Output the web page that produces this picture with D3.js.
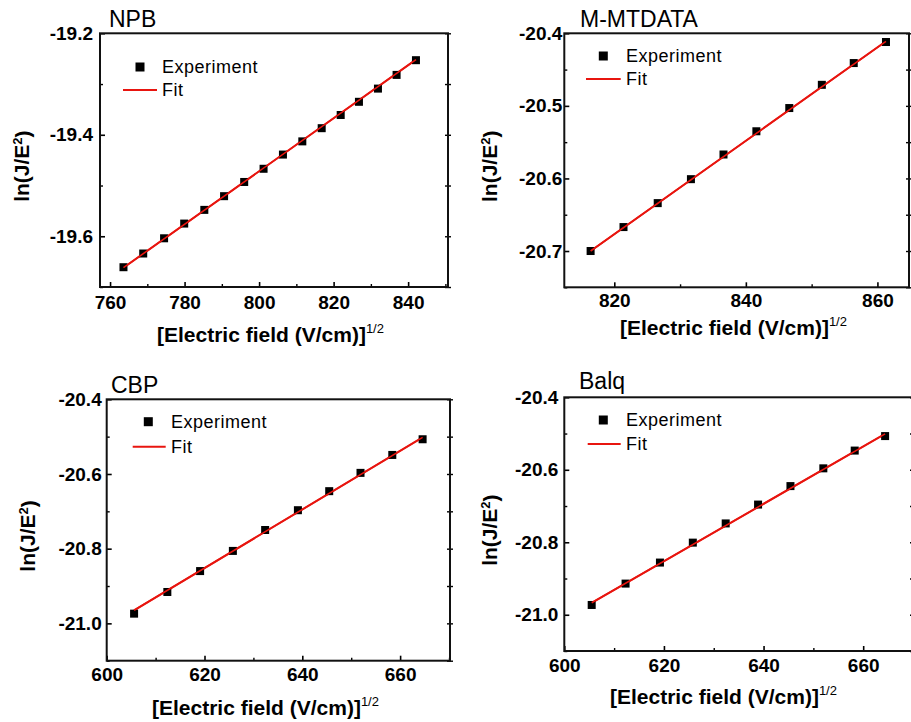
<!DOCTYPE html>
<html><head><meta charset="utf-8">
<script src="https://cdn.jsdelivr.net/npm/d3@7"></script>
<style>
html,body{margin:0;padding:0;background:#fff;}
svg{display:block;font-family:"Liberation Sans",Arial,sans-serif;}
</style></head>
<body>
<svg id="chart" width="911" height="722"></svg>
<script>
// ---------- data ----------
const panelNames = ["NPB", "M-MTDATA", "CBP", "Balq"];

const npbX = [763.6, 768.9, 774.5, 779.9, 785.3, 790.6, 796.0, 801.2, 806.4, 811.6, 816.8, 821.9, 826.8, 831.9, 836.9, 842.1];
const npbY = [-19.661, -19.634, -19.604, -19.575, -19.548, -19.521, -19.493, -19.467, -19.439, -19.413, -19.387, -19.361, -19.335, -19.309, -19.282, -19.253];
const npbFitX = [763.6, 842.1];
const npbFitY = [-19.662, -19.252];

const mtX = [816.4, 821.4, 826.6, 831.65, 836.6, 841.6, 846.6, 851.55, 856.4, 861.3];
const mtY = [-20.700, -20.667, -20.634, -20.601, -20.567, -20.535, -20.503, -20.471, -20.441, -20.412];
const mtFitX = [816.4, 861.3];
const mtFitY = [-20.700, -20.411];

const cbpX = [605.6, 612.4, 619.1, 625.8, 632.4, 639.1, 645.5, 651.9, 658.4, 664.6];
const cbpY = [-20.974, -20.916, -20.860, -20.806, -20.750, -20.697, -20.646, -20.597, -20.549, -20.507];
const cbpFitX = [605.6, 664.6];
const cbpFitY = [-20.965, -20.502];

const balqX = [605.5, 612.3, 619.2, 625.8, 632.4, 638.9, 645.4, 652.0, 658.3, 664.4];
const balqY = [-20.973, -20.914, -20.856, -20.801, -20.748, -20.696, -20.645, -20.596, -20.547, -20.507];
const balqFitX = [605.5, 664.4];
const balqFitY = [-20.967, -20.501];

const npbXTicks = [760, 780, 800, 820, 840];
const npbXMinor = [770, 790, 810, 830, 850];
const npbYTicks = [-19.6, -19.4, -19.2];
const npbYLabels = ["-19.6", "-19.4", "-19.2"];
const npbYMinor = [-19.7, -19.5, -19.3];

const mtXTicks = [820, 840, 860];
const mtXMinor = [830, 850];
const mtYTicks = [-20.7, -20.6, -20.5, -20.4];
const mtYLabels = ["-20.7", "-20.6", "-20.5", "-20.4"];
const mtYMinor = [-20.75, -20.65, -20.55, -20.45];

const lowXTicks = [600, 620, 640, 660];
const lowXMinor = [610, 630, 650, 670];
const lowYTicks = [-21.0, -20.8, -20.6, -20.4];
const lowYLabels = ["-21.0", "-20.8", "-20.6", "-20.4"];
const lowYMinor = [-21.1, -20.9, -20.7, -20.5];

const legendLabels = ["Experiment", "Fit"];
const xTitle = "[Electric field (V/cm)]";
const xTitleSup = "1/2";

// ---------- layout ----------
const panels = [
  {name: panelNames[0], xs: npbX, ys: npbY, fx: npbFitX, fy: npbFitY,
   xd: [757.3, 850.7], yd: [-19.7, -19.2], L: 100, R: 448, T: 33.3, B: 287,
   xt: npbXTicks, xm: npbXMinor, yt: npbYTicks, yl: npbYLabels, ym: npbYMinor,
   ylGap: 7, xlDy: 15, titleX: 109, titleY: 27, yTitleX: 22, xTitleX: 157, xTitleY: 335,
   legM: [140, 67], legT: 162, legF: [123, 157, 90]},
  {name: panelNames[1], xs: mtX, ys: mtY, fx: mtFitX, fy: mtFitY,
   xd: [812.4, 864.8], yd: [-20.75, -20.4], L: 564.3, R: 909, T: 33.3, B: 287.3,
   xt: mtXTicks, xm: mtXMinor, yt: mtYTicks, yl: mtYLabels, ym: mtYMinor,
   ylGap: 2, xlDy: 13, titleX: 580, titleY: 27, yTitleX: 490, xTitleX: 620, xTitleY: 328,
   legM: [603.3, 56], legT: 626, legF: [586, 620.7, 79]},
  {name: panelNames[2], xs: cbpX, ys: cbpY, fx: cbpFitX, fy: cbpFitY,
   xd: [600, 670.2], yd: [-21.1, -20.4], L: 106.7, R: 450, T: 399.3, B: 660.7,
   xt: lowXTicks, xm: lowXMinor, yt: lowYTicks, yl: lowYLabels, ym: lowYMinor,
   ylGap: 5, xlDy: 14, titleX: 111, titleY: 393, yTitleX: 28, xTitleX: 152, xTitleY: 708,
   legM: [148.3, 421.7], legT: 171, legF: [132.7, 165.7, 446.7]},
  {name: panelNames[3], xs: balqX, ys: balqY, fx: balqFitX, fy: balqFitY,
   xd: [600, 670], yd: [-21.1, -20.4], L: 564.3, R: 913, T: 397.3, B: 651,
   xt: lowXTicks, xm: lowXMinor, yt: lowYTicks, yl: lowYLabels, ym: lowYMinor,
   ylGap: 6, xlDy: 14, titleX: 579, titleY: 389, yTitleX: 490, xTitleX: 610, xTitleY: 697,
   legM: [603.3, 420], legT: 626, legF: [587.7, 620.7, 444]}
];

const RED = "#e8150f";
const svg = d3.select("#chart");

panels.forEach(p => {
  const g = svg.append("g");
  const x = d3.scaleLinear().domain(p.xd).range([p.L, p.R]);
  const y = d3.scaleLinear().domain(p.yd).range([p.B, p.T]);

  // axes: bottom with inward ticks
  const xAxis = d3.axisBottom(x).tickValues(p.xt).tickSize(-5).tickFormat(d3.format("d")).tickPadding(0);
  const gx = g.append("g").attr("transform", `translate(0,${p.B})`).call(xAxis);
  gx.select(".domain").remove();
  gx.selectAll("line").attr("stroke", "#000").attr("stroke-width", 1.6);
  gx.selectAll("text").attr("y", p.xlDy).attr("dy", "0.35em")
    .attr("font-size", 19).attr("font-weight", "bold").attr("fill", "#000");

  const xMin = d3.axisBottom(x).tickValues(p.xm.filter(v => v <= p.xd[1])).tickSize(-3).tickFormat("");
  const gxm = g.append("g").attr("transform", `translate(0,${p.B})`).call(xMin);
  gxm.select(".domain").remove();
  gxm.selectAll("line").attr("stroke", "#000").attr("stroke-width", 1.4);

  const yAxis = d3.axisLeft(y).tickValues(p.yt).tickSize(-5).tickFormat((d, i) => p.yl[i]).tickPadding(0);
  const gy = g.append("g").attr("transform", `translate(${p.L},0)`).call(yAxis);
  gy.select(".domain").remove();
  gy.selectAll("line").attr("stroke", "#000").attr("stroke-width", 1.6);
  gy.selectAll("text").attr("x", -p.ylGap).attr("font-size", 19).attr("font-weight", "bold").attr("fill", "#000");

  const yMin = d3.axisLeft(y).tickValues(p.ym.filter(v => v >= p.yd[0])).tickSize(-3).tickFormat("");
  const gym = g.append("g").attr("transform", `translate(${p.L},0)`).call(yMin);
  gym.select(".domain").remove();
  gym.selectAll("line").attr("stroke", "#000").attr("stroke-width", 1.4);

  // right-side mirror ticks
  const yR = d3.axisRight(y).tickValues(p.yt.concat(p.ym)).tickSize(3).tickFormat("");
  const gyr = g.append("g").attr("transform", `translate(${p.R},0)`).call(yR);
  gyr.select(".domain").remove();
  gyr.selectAll("line").attr("x1", -3).attr("stroke", "#000").attr("stroke-width", 1.4);

  // frame
  g.append("rect").attr("x", p.L).attr("y", p.T).attr("width", p.R - p.L).attr("height", p.B - p.T)
    .attr("fill", "none").attr("stroke", "#111").attr("stroke-width", 2);

  // fit line
  const fitPts = p.fx.map((v, i) => [v, p.fy[i]]);
  g.append("path").datum(fitPts)
    .attr("d", d3.line().x(d => x(d[0])).y(d => y(d[1])))
    .attr("stroke", RED).attr("stroke-width", 2).attr("fill", "none");

  // experiment squares
  const S = 8;
  g.selectAll("rect.pt").data(p.xs.map((v, i) => [v, p.ys[i]])).enter().append("rect")
    .attr("class", "pt")
    .attr("x", d => x(d[0]) - S / 2).attr("y", d => y(d[1]) - S / 2)
    .attr("width", S).attr("height", S).attr("fill", "#000");
  // redraw fit over squares lightly
  g.append("path").datum(fitPts)
    .attr("d", d3.line().x(d => x(d[0])).y(d => y(d[1])))
    .attr("stroke", RED).attr("stroke-width", 1.6).attr("fill", "none");

  // panel title
  g.append("text").attr("x", p.titleX).attr("y", p.titleY).text(p.name)
    .attr("font-size", 23).attr("fill", "#000");

  // legend
  g.append("rect").attr("x", p.legM[0] - 4.5).attr("y", p.legM[1] - 4.5).attr("width", 9).attr("height", 9).attr("fill", "#000");
  g.append("text").attr("x", p.legT).attr("y", p.legM[1]).attr("dy", "0.35em").text(legendLabels[0])
    .attr("font-size", 18).attr("letter-spacing", 0.5).attr("fill", "#000");
  g.append("line").attr("x1", p.legF[0]).attr("x2", p.legF[1]).attr("y1", p.legF[2]).attr("y2", p.legF[2])
    .attr("stroke", RED).attr("stroke-width", 2);
  g.append("text").attr("x", p.legT).attr("y", p.legF[2]).attr("dy", "0.35em").text(legendLabels[1])
    .attr("font-size", 18).attr("letter-spacing", 0.5).attr("fill", "#000");

  // y title
  const cy = (p.T + p.B) / 2 + 6;
  const yt = g.append("text").attr("transform", `translate(${p.yTitleX},${cy}) rotate(-90)`)
    .attr("text-anchor", "middle").attr("dy", "0.35em")
    .attr("font-size", 21).attr("font-weight", "bold").attr("fill", "#000");
  yt.append("tspan").text("ln(J/E");
  yt.append("tspan").text("2").attr("font-size", 13).attr("dy", "-0.55em");
  yt.append("tspan").text(")").attr("dy", "0.35em");

  // x title
  const xtT = g.append("text").attr("x", p.xTitleX).attr("y", p.xTitleY).attr("dy", "0.35em")
    .attr("font-size", 21).attr("font-weight", "bold").attr("fill", "#000");
  xtT.append("tspan").text(xTitle);
  xtT.append("tspan").text(xTitleSup).attr("font-size", 13).attr("font-weight", "normal").attr("dy", "-0.75em");
});
</script>
</body></html>
